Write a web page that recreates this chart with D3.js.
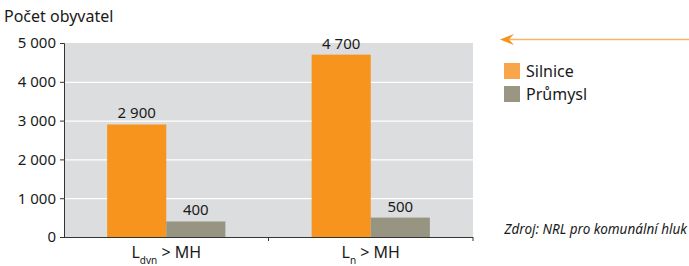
<!DOCTYPE html>
<html>
<head>
<meta charset="utf-8">
<script src="https://cdn.jsdelivr.net/npm/d3@7"></script>
<style>
  body { margin: 0; background: #fff; }
  text { font-family: "Noto Sans", sans-serif; fill: #1a1a1a; }
</style>
</head>
<body>
<script>
const categories = ['dvn', 'n']   // subscript of L
const series = ['Silnice', 'Průmysl']
const silnice = [2900, 4700]
const prumysl = [400, 500]
const yTicks = [0, 1000, 2000, 3000, 4000, 5000]
const colors = ['#f7941d', '#979582']
const legendColors = ['#f9a54a', '#999683']

const width = 689
const height = 266
const margin = { top: 43, right: 216, bottom: 29, left: 64 }

const fmt = (v) => d3.format(',')(v).replace(/,/g, ' ')

const svg = d3.select('body')
  .append('svg')
  .attr('width', width)
  .attr('height', height)

const escalaY = d3.scaleLinear()
  .domain([0, 5000])
  .range([height - margin.bottom, margin.top])

const escalaX = d3.scaleBand()
  .domain(categories)
  .range([margin.left, width - margin.right])

const escalaSerie = d3.scaleBand()
  .domain(series)
  .range([0, escalaX.bandwidth()])
  .paddingOuter(0.73)

// fondo
svg.append('rect')
  .attr('x', margin.left)
  .attr('y', margin.top)
  .attr('width', width - margin.left - margin.right)
  .attr('height', height - margin.top - margin.bottom)
  .attr('fill', '#dcdddf')

// grid
svg.append('g')
  .selectAll('line')
  .data(yTicks.filter((d) => d > 0 && d < 5000))
  .join('line')
  .attr('x1', margin.left)
  .attr('x2', width - margin.right)
  .attr('y1', (d) => escalaY(d) + 0.5)
  .attr('y2', (d) => escalaY(d) + 0.5)
  .attr('stroke', '#fff')
  .attr('stroke-width', 1.2)

const datos = categories.map((c, i) => ({
  cat: c,
  values: [
    { serie: series[0], value: silnice[i] },
    { serie: series[1], value: prumysl[i] }
  ]
}))

const grupos = svg.append('g')
  .selectAll('g')
  .data(datos)
  .join('g')
  .attr('transform', (d) => `translate(${escalaX(d.cat)}, 0)`)

grupos.selectAll('rect')
  .data((d) => d.values)
  .join('rect')
  .attr('x', (d) => escalaSerie(d.serie))
  .attr('width', escalaSerie.bandwidth())
  .attr('y', (d) => escalaY(d.value))
  .attr('height', (d) => escalaY(0) - escalaY(d.value))
  .attr('fill', (d, i) => colors[i])

grupos.selectAll('text.valor')
  .data((d) => d.values)
  .join('text')
  .attr('class', 'valor')
  .attr('x', (d) => escalaSerie(d.serie) + escalaSerie.bandwidth() / 2)
  .attr('y', (d) => escalaY(d.value) - 6)
  .attr('text-anchor', 'middle')
  .attr('font-size', 15)
  .text((d) => fmt(d.value))

// eje Y
const ejeY = d3.axisLeft(escalaY)
  .tickValues(yTicks)
  .tickSize(4)
  .tickPadding(4)
  .tickFormat(fmt)

const contenedorEjeY = svg.append('g')
  .attr('transform', `translate(${margin.left}, 0)`)
  .call(ejeY)

contenedorEjeY.select('.domain').attr('stroke', '#333')
contenedorEjeY.selectAll('line').attr('stroke', '#333')
contenedorEjeY.selectAll('text')
  .attr('font-size', 15)
  .attr('font-family', '"Noto Sans", sans-serif')
  .attr('fill', '#1a1a1a')

// eje X
const bordes = [escalaX.range()[0] + escalaX.bandwidth(), escalaX.range()[1]]
const contenedorEjeX = svg.append('g')
contenedorEjeX.append('line')
  .attr('x1', margin.left)
  .attr('x2', width - margin.right)
  .attr('y1', escalaY(0) + 0.5)
  .attr('y2', escalaY(0) + 0.5)
  .attr('stroke', '#333')
contenedorEjeX.selectAll('line.tick')
  .data(bordes)
  .join('line')
  .attr('class', 'tick')
  .attr('x1', (d) => d)
  .attr('x2', (d) => d)
  .attr('y1', escalaY(0))
  .attr('y2', escalaY(0) + 4)
  .attr('stroke', '#333')

const etiquetas = contenedorEjeX.selectAll('text')
  .data(categories)
  .join('text')
  .attr('x', (d) => escalaX(d) + escalaX.bandwidth() / 2)
  .attr('y', 258)
  .attr('text-anchor', 'middle')
  .attr('font-size', 16)
etiquetas.append('tspan').text('L')
etiquetas.append('tspan')
  .attr('font-size', 10)
  .attr('dy', 6)
  .text((d) => d)
etiquetas.append('tspan')
  .attr('dy', -6)
  .text(' > MH')

// título
svg.append('text')
  .attr('x', 4)
  .attr('y', 22)
  .attr('font-size', 16)
  .text('Počet obyvatel')

// flecha
svg.append('line')
  .attr('x1', 505)
  .attr('x2', 689)
  .attr('y1', 39.5)
  .attr('y2', 39.5)
  .attr('stroke', '#f9b46b')
  .attr('stroke-width', 1.5)
svg.append('path')
  .attr('d', 'M500,39.5 L514,34 L509,39.5 L514,45 Z')
  .attr('fill', '#f7941d')

// leyenda
const leyenda = svg.append('g')
  .selectAll('g')
  .data(series)
  .join('g')
  .attr('transform', (d, i) => `translate(504, ${63 + i * 23})`)

leyenda.append('rect')
  .attr('width', 16)
  .attr('height', 16)
  .attr('fill', (d, i) => legendColors[i])

leyenda.append('text')
  .attr('x', 22)
  .attr('y', 14)
  .attr('font-size', 16)
  .text((d) => d)

// fuente
svg.append('text')
  .attr('x', 687)
  .attr('y', 234)
  .attr('text-anchor', 'end')
  .attr('font-size', 13.5)
  .attr('font-style', 'italic')
  .text('Zdroj: NRL pro komunální hluk')
</script>
</body>
</html>
